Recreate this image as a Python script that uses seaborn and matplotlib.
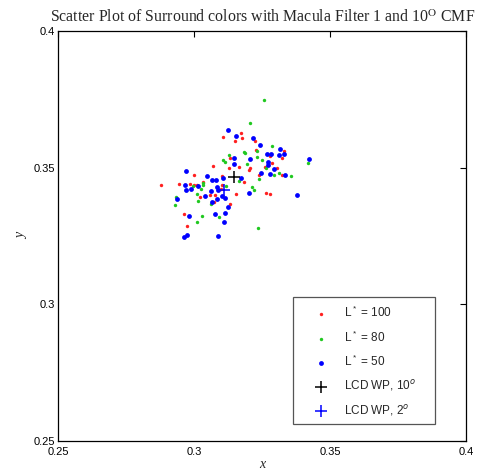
import matplotlib
matplotlib.use("Agg")
import matplotlib.pyplot as plt
from matplotlib.patches import Rectangle
import seaborn as sns
import pandas as pd

# ---- data (CIE x, y chromaticities) ----
red_x = [0.3107, 0.3173, 0.3176, 0.3151, 0.3132, 0.3070, 0.3129, 0.3165, 0.3224, 0.3331,
         0.3228, 0.3279, 0.3324, 0.3287, 0.3206, 0.3261, 0.3305, 0.3000, 0.3103, 0.3184,
         0.2879, 0.2945, 0.2985, 0.3000, 0.3011, 0.3033, 0.3103, 0.3099, 0.3059, 0.3077,
         0.3022, 0.3074, 0.3132, 0.3154, 0.2963, 0.2974, 0.3202, 0.3239, 0.3324, 0.3265,
         0.3279]
red_y = [0.3613, 0.3627, 0.3609, 0.3598, 0.3536, 0.3507, 0.3499, 0.3503, 0.3598, 0.3561,
         0.3565, 0.3543, 0.3536, 0.3517, 0.3499, 0.3503, 0.3499, 0.3474, 0.3470, 0.3448,
         0.3437, 0.3441, 0.3441, 0.3437, 0.3437, 0.3448, 0.3437, 0.3422, 0.3400, 0.3400,
         0.3393, 0.3375, 0.3367, 0.3404, 0.3331, 0.3287, 0.3492, 0.3474, 0.3474, 0.3408,
         0.3404]

green_x = [0.3129, 0.3184, 0.3107, 0.3114, 0.3257, 0.3206, 0.3287, 0.3232, 0.3188, 0.3232,
           0.3250, 0.3272, 0.3195, 0.3265, 0.3419, 0.3165, 0.2996, 0.3033, 0.3033, 0.3118,
           0.3011, 0.3026, 0.2934, 0.2930, 0.3015, 0.3063, 0.3092, 0.3029, 0.3011, 0.3294,
           0.3313, 0.3357, 0.3239, 0.3213, 0.3221, 0.3235]
green_y = [0.3547, 0.3558, 0.3528, 0.3521, 0.3748, 0.3664, 0.3580, 0.3561, 0.3554, 0.3539,
           0.3528, 0.3510, 0.3514, 0.3499, 0.3517, 0.3452, 0.3433, 0.3444, 0.3437, 0.3433,
           0.3404, 0.3422, 0.3393, 0.3364, 0.3378, 0.3367, 0.3320, 0.3324, 0.3302, 0.3474,
           0.3481, 0.3470, 0.3459, 0.3430, 0.3419, 0.3280]

blue_x = [0.3125, 0.3154, 0.3147, 0.3147, 0.3217, 0.3243, 0.3316, 0.3268, 0.3282, 0.3313,
          0.3331, 0.3206, 0.3272, 0.3272, 0.3294, 0.3423, 0.2971, 0.3048, 0.3066, 0.3107,
          0.3173, 0.2967, 0.2971, 0.2989, 0.3015, 0.3081, 0.3085, 0.3088, 0.3063, 0.3040,
          0.3103, 0.3114, 0.2938, 0.3066, 0.3085, 0.3125, 0.3114, 0.3077, 0.2982, 0.3110,
          0.2974, 0.2963, 0.3088, 0.3246, 0.3279, 0.3335, 0.3202, 0.3379]
blue_y = [0.3638, 0.3616, 0.3536, 0.3514, 0.3609, 0.3583, 0.3569, 0.3550, 0.3550, 0.3547,
          0.3550, 0.3532, 0.3521, 0.3510, 0.3496, 0.3532, 0.3488, 0.3470, 0.3455, 0.3463,
          0.3463, 0.3437, 0.3419, 0.3422, 0.3433, 0.3455, 0.3430, 0.3419, 0.3415, 0.3397,
          0.3397, 0.3389, 0.3386, 0.3375, 0.3386, 0.3356, 0.3334, 0.3331, 0.3324, 0.3302,
          0.3254, 0.3247, 0.3250, 0.3481, 0.3477, 0.3474, 0.3408, 0.3400]

wp10_x = [0.3147]
wp10_y = [0.3466]
wp2_x = [0.3110]
wp2_y = [0.3418]

labels = ["L$^*$ = 100", "L$^*$ = 80", "L$^*$ = 50", "LCD WP, 10$^o$", "LCD WP, 2$^o$"]
xticks = [0.25, 0.3, 0.35, 0.4]
yticks = [0.25, 0.3, 0.35, 0.4]
xtick_labels = ["0.25", "0.3", "0.35", "0.4"]
ytick_labels = ["0.25", "0.3", "0.35", "0.4"]

sns.set_style("white")
plt.rcParams['font.family'] = ['Liberation Sans', 'DejaVu Sans']
plt.rcParams['mathtext.fontset'] = 'custom'
plt.rcParams['mathtext.rm'] = 'Liberation Sans'

fig = plt.figure(figsize=(4.82, 4.72), dpi=100)
ax = fig.add_axes([58/482, 31/472, 408/482, 410/472])

df_r = pd.DataFrame({"x": red_x, "y": red_y})
df_g = pd.DataFrame({"x": green_x, "y": green_y})
df_b = pd.DataFrame({"x": blue_x, "y": blue_y})

sns.scatterplot(data=df_r, x="x", y="y", ax=ax, color="#ff2020", s=6, linewidth=0,
                marker="o", label=labels[0])
sns.scatterplot(data=df_g, x="x", y="y", ax=ax, color="#20c820", s=6, linewidth=0,
                marker="o", label=labels[1])
sns.scatterplot(data=df_b, x="x", y="y", ax=ax, color="#0000ff", s=12, linewidth=0,
                marker="o", label=labels[2])
sns.scatterplot(x=wp10_x, y=wp10_y, ax=ax, color="black", s=80, marker="+",
                linewidth=1.1, label=labels[3])
sns.scatterplot(x=wp2_x, y=wp2_y, ax=ax, color="#0000ff", s=80, marker="+",
                linewidth=1.1, label=labels[4])

ax.set_xlim(0.25, 0.4)
ax.set_ylim(0.25, 0.4)
ax.set_xticks(xticks)
ax.set_xticklabels(xtick_labels)
ax.set_yticks(yticks)
ax.set_yticklabels(ytick_labels)
ax.tick_params(direction="in", top=True, right=True, length=4, width=0.8,
               labelsize=8, colors="black")
ax.tick_params(axis="x", pad=4)
ax.tick_params(axis="y", pad=2)
for sp in ax.spines.values():
    sp.set_visible(True)
    sp.set_color("black")
    sp.set_linewidth(0.9)

ax.set_xlabel("x", fontsize=10, family="Liberation Serif", style="italic", labelpad=1)
ax.set_ylabel("y", fontsize=10, family="Liberation Serif", style="italic", labelpad=4)

fig.text(263/482, 1 - 22/472,
         "Scatter Plot of Surround colors with Macula Filter 1 and 10$^{\\mathrm{O}}$ CMF",
         ha="center", va="baseline", fontsize=11.4, family="Liberation Serif",
         math_fontfamily="stix")

# legend frame drawn as a box in axes coordinates
x0, x1 = (293 - 58) / 408, (435 - 58) / 408
y0, y1 = (441 - 424) / 410, (441 - 297) / 410
ax.add_patch(Rectangle((x0, y0), x1 - x0, y1 - y0, transform=ax.transAxes,
                       facecolor="white", edgecolor="#555555", linewidth=0.9, zorder=4))

leg = ax.legend(loc="upper left", bbox_to_anchor=(x0, y1),
                borderaxespad=0, frameon=False, fontsize=8.5,
                labelspacing=0.78, handlelength=3.3, handletextpad=0.36,
                borderpad=0.7, markerscale=1.0)
leg.set_zorder(5)

fig.savefig("out.png", dpi=100)
